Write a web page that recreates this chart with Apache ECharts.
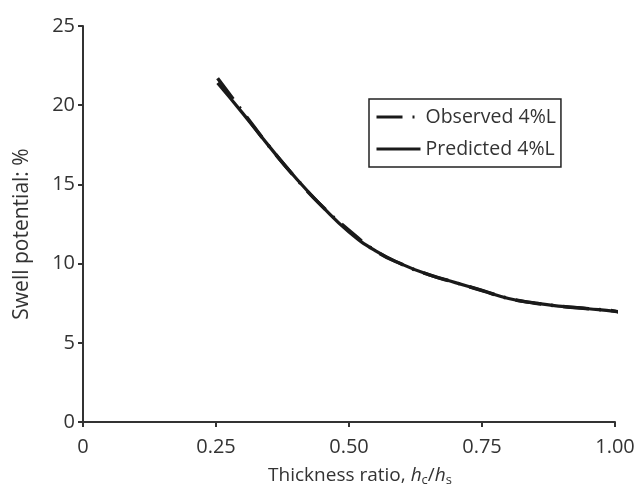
<!DOCTYPE html>
<html>
<head>
<meta charset="utf-8">
<script src="https://cdn.jsdelivr.net/npm/echarts@6/dist/echarts.min.js"></script>
<style>
  html, body { margin: 0; padding: 0; background: #fff; }
  #chart { width: 639px; height: 486px; }
</style>
</head>
<body>
<div id="chart"></div>
<script>
'use strict';

// thickness ratio hc/hs
const ratio = [0.253, 0.30, 0.35, 0.40, 0.45, 0.50, 0.55, 0.60, 0.65, 0.70, 0.75, 0.80, 0.85, 0.90, 0.95, 1.00, 1.015];
// swell potential, %
const observed  = [21.7, 19.6, 17.4, 15.4, 13.6, 12.1, 10.8, 9.95, 9.3, 8.8, 8.3, 7.8, 7.5, 7.3, 7.15, 7.0, 6.85];
const predicted = [21.4, 19.5, 17.4, 15.4, 13.6, 12.0, 10.8, 9.95, 9.3, 8.8, 8.3, 7.8, 7.5, 7.3, 7.15, 6.98, 6.85];

const FONT = 'Open Sans';
const ink = '#333';

function pairs(ys) {
  return ratio.map((x, i) => [x, ys[i]]);
}

const chart = echarts.init(document.getElementById('chart'));
chart.setOption({
  animation: false,
  textStyle: { fontFamily: FONT, color: ink },
  grid: { left: 83, right: 24, top: 26, bottom: 64, outerBoundsMode: 'none', containLabel: false },
  legend: {
    orient: 'vertical',
    left: 369, top: 99,
    padding: [8, 5, 8, 6],
    itemGap: 12,
    itemWidth: 44, itemHeight: 14,
    borderColor: '#222', borderWidth: 1.5,
    itemStyle: { color: 'transparent', borderWidth: 0 },
    lineStyle: { width: 3 },
    textStyle: { fontFamily: FONT, fontSize: 19.5, color: ink, padding: [0, 0, 0, 0] },
    data: ['Observed 4%L', 'Predicted 4%L']
  },
  xAxis: {
    type: 'value',
    min: 0, max: 1, interval: 0.25,
    name: 'Thickness ratio, {i|h}{sub|c}/{i|h}{sub|s}',
    nameLocation: 'middle',
    nameGap: 42,
    nameTextStyle: {
      fontSize: 19, color: ink, verticalAlign: 'top',
      padding: [0, 0, 0, 22],
      rich: {
        i: { fontSize: 19, fontStyle: 'italic', color: ink, fontFamily: FONT },
        sub: { fontSize: 13, color: ink, fontFamily: FONT, padding: [10, 0, 0, 0] }
      }
    },
    axisLine: { lineStyle: { color: ink, width: 2 } },
    axisTick: { inside: false, length: 5, lineStyle: { color: ink, width: 2 } },
    splitLine: { show: false },
    axisLabel: {
      fontSize: 20, color: ink, margin: 15,
      formatter: v => (v === 0 ? '0' : v.toFixed(2))
    }
  },
  yAxis: {
    type: 'value',
    min: 0, max: 25, interval: 5,
    name: 'Swell potential: %',
    nameLocation: 'middle',
    nameGap: 50,
    nameTextStyle: { fontSize: 21, color: ink, padding: [0, 20, 0, 0] },
    axisLine: { show: true, lineStyle: { color: ink, width: 2 } },
    axisTick: { show: true, length: 5, lineStyle: { color: ink, width: 2 } },
    splitLine: { show: false },
    axisLabel: { fontSize: 20, color: ink, margin: 8 }
  },
  series: [
    {
      name: 'Observed 4%L',
      type: 'line',
      smooth: true,
      symbol: 'none',
      data: pairs(observed),
      lineStyle: { color: '#1a1a1a', width: 3.5, type: [26, 10, 2, 10] },
      itemStyle: { color: '#1a1a1a' }
    },
    {
      name: 'Predicted 4%L',
      type: 'line',
      smooth: true,
      symbol: 'none',
      data: pairs(predicted),
      lineStyle: { color: '#1a1a1a', width: 3.2, type: 'solid' },
      itemStyle: { color: '#1a1a1a' }
    }
  ]
});
</script>
</body>
</html>
